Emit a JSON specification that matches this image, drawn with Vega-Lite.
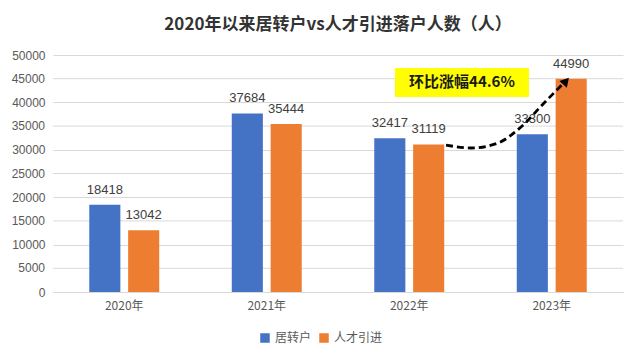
{
  "$schema": "https://vega.github.io/schema/vega-lite/v6.json",
  "width": 570,
  "height": 237,
  "padding": {"left": 11, "right": 18, "top": 16, "bottom": 5},
  "background": "white",
  "title": {
    "text": "2020年以来居转户vs人才引进落户人数（人）",
    "font": "Noto Sans CJK SC",
    "fontSize": 17,
    "fontWeight": "bold",
    "color": "#333333",
    "offset": 15
  },
  "config": {
    "view": {"stroke": null},
    "font": "Noto Sans CJK SC",
    "axisY": {"labelOverlap": false, "tickCount": 10}
  },
  "resolve": {"scale": {"x": "independent"}},
  "encoding": {
    "y": {"field": "value", "type": "quantitative",
      "scale": {"domain": [0, 50000], "nice": false},
      "axis": {"title": null, "values": [0,5000,10000,15000,20000,25000,30000,35000,40000,45000,50000], "tickCount": 10, "labelOverlap": false, "format": "d", "labelFont": "Liberation Sans", "labelFontSize": 12, "labelColor": "#595959", "gridColor": "#d9d9d9", "domain": false, "ticks": false, "labelPadding": 8}}
  },
  "layer": [
    {
      "data": {"values": [
        {"value": 5000}, {"value": 15000}, {"value": 25000}, {"value": 35000}, {"value": 45000}
      ]},
      "layer": [
        {
          "mark": {"type": "rule", "color": "#d9d9d9", "strokeWidth": 1},
          "encoding": {}
        },
        {
          "mark": {"type": "text", "align": "right", "baseline": "middle", "font": "Liberation Sans", "fontSize": 12, "color": "#595959"},
          "encoding": {
            "x": {"datum": -0.056, "type": "quantitative", "scale": {"domain": [0, 4], "nice": false, "zero": false}, "axis": null},
            "text": {"field": "value", "type": "quantitative", "format": "d"}
          }
        }
      ]
    },
    {
      "data": {"name": "main", "values": [
        {"year": "2020年", "series": "居转户", "value": 18418},
        {"year": "2020年", "series": "人才引进", "value": 13042},
        {"year": "2021年", "series": "居转户", "value": 37684},
        {"year": "2021年", "series": "人才引进", "value": 35444},
        {"year": "2022年", "series": "居转户", "value": 32417},
        {"year": "2022年", "series": "人才引进", "value": 31119},
        {"year": "2023年", "series": "居转户", "value": 33300},
        {"year": "2023年", "series": "人才引进", "value": 44990}
      ]},
      "layer": [
        {
          "mark": {"type": "bar"},
          "encoding": {
            "x": {"field": "year", "type": "nominal", "sort": null,
              "scale": {"paddingInner": 0.509, "paddingOuter": 0.2545},
              "axis": {"title": null, "labelAngle": 0, "labelFont": "Noto Sans CJK SC", "labelFontSize": 12, "labelColor": "#595959", "labelPadding": 8, "domainColor": "#d9d9d9", "ticks": false}},
            "xOffset": {"field": "series", "type": "nominal", "sort": ["居转户", "人才引进"], "scale": {"paddingInner": 0.2, "paddingOuter": 0}},
            "color": {"field": "series", "type": "nominal", "sort": ["居转户", "人才引进"],
              "scale": {"domain": ["居转户", "人才引进"], "range": ["#4472C4", "#ED7D31"]},
              "legend": {"title": null, "orient": "none", "legendX": 206, "legendY": 277, "direction": "horizontal", "symbolType": "square", "symbolSize": 90, "labelFont": "Noto Sans CJK SC", "labelFontSize": 12, "labelColor": "#595959", "columnPadding": 6, "symbolStrokeWidth": 0}}
          }
        },
        {
          "mark": {"type": "text", "baseline": "alphabetic", "dy": -11, "font": "Liberation Sans", "fontSize": 13, "color": "#404040"},
          "encoding": {
            "x": {"field": "year", "type": "nominal", "sort": null},
            "xOffset": {"field": "series", "type": "nominal", "sort": ["居转户", "人才引进"]},
            "text": {"field": "value", "type": "quantitative", "format": "d"}
          }
        }
      ]
    },
    {
      "data": {"values": [
        {"x1": 2.4, "x2": 3.34, "value": 41150, "y2": 47260, "tx": 2.87, "ty": 44200, "label": "环比涨幅44.6%"}
      ]},
      "layer": [
        {
          "mark": {"type": "rect", "color": "#FFFF00"},
          "encoding": {
            "x": {"field": "x1", "type": "quantitative", "scale": {"domain": [0, 4], "nice": false, "zero": false}, "axis": null},
            "x2": {"field": "x2"},
            "y2": {"field": "y2"}
          }
        },
        {
          "mark": {"type": "text", "font": "Noto Sans CJK SC", "fontSize": 15, "fontWeight": "bold", "color": "#1a1a1a"},
          "encoding": {
            "x": {"field": "tx", "type": "quantitative", "scale": {"domain": [0, 4], "nice": false, "zero": false}, "axis": null},
            "y": {"field": "ty", "type": "quantitative"},
            "text": {"field": "label"}
          }
        }
      ]
    },
    {
      "data": {"values": [
        {"px": 2.758, "value": 31000},
        {"px": 2.933, "value": 30380},
        {"px": 3.123, "value": 31435},
        {"px": 3.284, "value": 34810},
        {"px": 3.446, "value": 39870},
        {"px": 3.585, "value": 44100}
      ]},
      "mark": {"type": "line", "interpolate": "monotone", "color": "black", "strokeWidth": 2.8, "strokeDash": [7, 4]},
      "encoding": {
        "x": {"field": "px", "type": "quantitative", "scale": {"domain": [0, 4], "nice": false, "zero": false}, "axis": null}
      }
    },
    {
      "data": {"values": [{"px": 3.6, "value": 44500}]},
      "mark": {"type": "point", "shape": "triangle-up", "filled": true, "color": "black", "size": 100, "angle": 42, "opacity": 1},
      "encoding": {
        "x": {"field": "px", "type": "quantitative", "scale": {"domain": [0, 4], "nice": false, "zero": false}, "axis": null}
      }
    }
  ]
}
